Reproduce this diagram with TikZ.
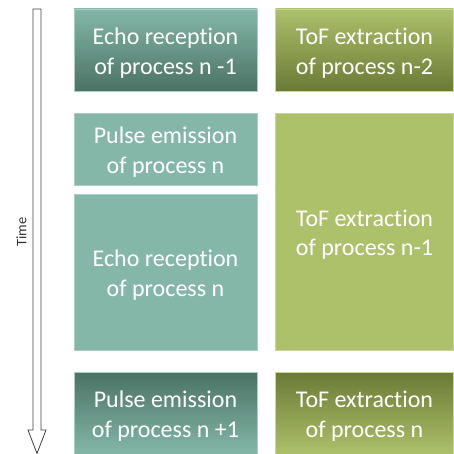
\documentclass[tikz,border=0pt]{standalone}
\usepackage{fontspec}
\setmainfont[RawFeature={-liga;-clig;-calt;-dlig}]{Carlito}
\definecolor{tealL}{HTML}{84B7A7}
\definecolor{tealD}{HTML}{4A7265}
\definecolor{oliveL}{HTML}{ADC06A}
\definecolor{oliveD}{HTML}{6B7A35}
\definecolor{tealE}{HTML}{A9CEC2}
\definecolor{oliveE}{HTML}{C8D69A}
\newcommand{\firstlinestrut}{\rule{0pt}{0.95em}}
\begin{document}
\begin{tikzpicture}[x=1pt,y=-1pt,
  box/.style={inner sep=0pt, text=white, align=center,
    font=\fontsize{24}{29.3}\selectfont, line width=0.6pt},
  tealbox/.style={box, fill=tealL, draw=tealE},
  olivebox/.style={box, fill=oliveL, draw=oliveE},
  tealdown/.style={box, draw=tealE, top color=tealL, bottom color=tealD},
  tealup/.style={box, draw=tealE, top color=tealD, bottom color=tealL},
  olivedown/.style={box, draw=oliveE, top color=oliveL, bottom color=oliveD},
  oliveup/.style={box, draw=oliveE, top color=oliveD, bottom color=oliveL},
  timearrow/.style={draw=black!75, line width=0.8pt, fill=white, line join=miter}]
\useasboundingbox (0,0) rectangle (453,454);

\node[tealdown, minimum width=183pt, minimum height=82pt] (e1) at (165.5,50)
  {\firstlinestrut Echo reception\\of process n -1};
\node[olivedown, minimum width=178pt, minimum height=82pt] (t2) at (364.5,50)
  {\firstlinestrut ToF extraction\\of process n-2};
\node[tealbox, minimum width=183pt, minimum height=72pt] (p0) at (165.5,149)
  {\firstlinestrut Pulse emission\\of process n};
\node[tealbox, minimum width=183pt, minimum height=156pt] (e0) at (165.5,272)
  {\firstlinestrut Echo reception\\of process n};
\node[olivebox, minimum width=178pt, minimum height=237pt] (t1) at (364.5,231.5)
  {\firstlinestrut ToF extraction\\of process n-1};
\node[tealup, minimum width=183pt, minimum height=82pt] (p1) at (165.5,413)
  {\firstlinestrut Pulse emission\\of process n +1};
\node[oliveup, minimum width=178pt, minimum height=82pt] (t0) at (364.5,413)
  {\firstlinestrut ToF extraction\\of process n};

\draw[timearrow] (33,9) -- (41,9) -- (41,430) -- (46,430) -- (37,453.5)
  -- (28,430) -- (33,430) -- cycle;
\node[rotate=90, inner sep=0pt, text=black!80, font=\fontsize{14.5}{17}\selectfont] (time) at (21.5,232) {Time};
\end{tikzpicture}
\end{document}
